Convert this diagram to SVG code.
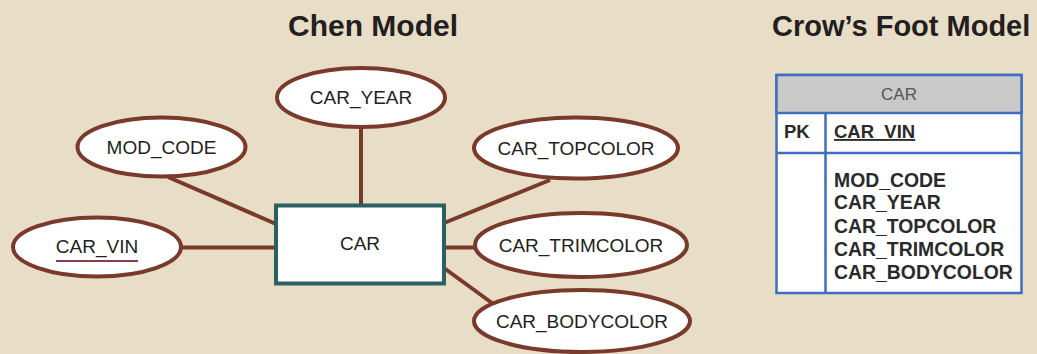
<svg xmlns="http://www.w3.org/2000/svg" width="1037" height="354" viewBox="0 0 1037 354">
<style>
.title{font-family:"Liberation Sans",Arial,sans-serif;font-weight:bold;font-size:30px;fill:#231f20}
.attr{fill:#fff;stroke:#7a3a2b;stroke-width:4}
.lbl{font-family:"Liberation Sans",Arial,sans-serif;font-size:19px;fill:#231f20;text-anchor:middle}
.conn line{stroke:#7a3a2b;stroke-width:4}
.tb{font-family:"Liberation Sans",Arial,sans-serif;font-weight:bold;font-size:19.4px;fill:#2a2a2a}
.tbl{stroke:#3f6dbf;stroke-width:2.5}
</style>
<rect width="1037" height="354" fill="#e8ddc6"/>
<text class="title" x="288" y="36">Chen Model</text>
<text class="title" x="772" y="36" style="font-size:29px">Crow’s Foot Model</text>
<g id="connectors" class="conn">
<line x1="361" y1="128" x2="361" y2="205"/>
<line x1="168" y1="177" x2="276" y2="224"/>
<line x1="182" y1="247.5" x2="276" y2="247.5"/>
<line x1="444" y1="223" x2="550" y2="180"/>
<line x1="444" y1="247.5" x2="474" y2="247.5"/>
<line x1="444" y1="268" x2="492" y2="303"/>
</g>
<g id="car">
<rect x="276" y="205.5" width="168" height="78" fill="#fff" stroke="#2b6163" stroke-width="4"/>
<text class="lbl" x="360" y="250">CAR</text>
</g>
<g id="car_year">
<ellipse class="attr" cx="361" cy="97.5" rx="84" ry="29.5"/>
<text class="lbl" x="361" y="104">CAR_YEAR</text>
</g>
<g id="mod_code">
<ellipse class="attr" cx="161.5" cy="147" rx="84" ry="29.5"/>
<text class="lbl" x="161.5" y="153.5">MOD_CODE</text>
</g>
<g id="car_vin">
<ellipse class="attr" cx="97" cy="247" rx="84" ry="29.5"/>
<text class="lbl" x="97" y="253">CAR_VIN</text>
<line x1="56" y1="261" x2="138" y2="261" stroke="#8a3a4c" stroke-width="2"/>
</g>
<g id="car_topcolor">
<ellipse class="attr" cx="576" cy="148" rx="102" ry="30.5"/>
<text class="lbl" x="576" y="154.5">CAR_TOPCOLOR</text>
</g>
<g id="car_trimcolor">
<ellipse class="attr" cx="581" cy="245" rx="106" ry="32"/>
<text class="lbl" x="581" y="251.5">CAR_TRIMCOLOR</text>
</g>
<g id="car_bodycolor">
<ellipse class="attr" cx="582" cy="321" rx="108" ry="31"/>
<text class="lbl" x="582" y="327.5">CAR_BODYCOLOR</text>
</g>
<g id="crowsfoot_car">
<rect x="776.5" y="75" width="245" height="218" fill="#fff" class="tbl"/>
<rect x="776.5" y="75" width="245" height="38" fill="#c9c9c9" class="tbl"/>
<line x1="776.5" y1="153" x2="1021.5" y2="153" class="tbl"/>
<line x1="825.5" y1="113" x2="825.5" y2="293" class="tbl"/>
<text x="899" y="100" font-family="Liberation Sans,Arial,sans-serif" font-size="17" fill="#555" text-anchor="middle">CAR</text>
<text class="tb" x="784" y="138" style="font-size:18.5px">PK</text>
<text class="tb" x="834" y="138" style="font-size:18.5px" text-decoration="underline">CAR_VIN</text>
<text class="tb" x="834" y="187">MOD_CODE</text>
<text class="tb" x="834" y="209">CAR_YEAR</text>
<text class="tb" x="834" y="233">CAR_TOPCOLOR</text>
<text class="tb" x="834" y="256">CAR_TRIMCOLOR</text>
<text class="tb" x="834" y="279">CAR_BODYCOLOR</text>
</g>
</svg>
